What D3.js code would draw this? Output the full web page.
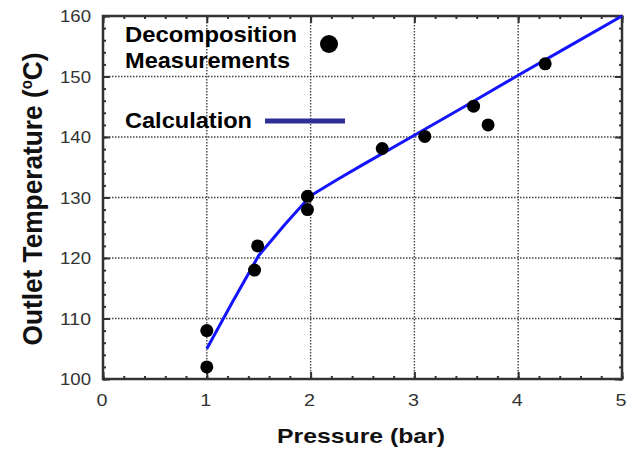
<!DOCTYPE html>
<html>
<head>
<meta charset="utf-8">
<script src="https://cdn.jsdelivr.net/npm/d3@7"></script>
<style>
  body { margin: 0; background: #fff; }
  text { font-family: Arial, "Liberation Sans", sans-serif; }
</style>
</head>
<body>
<div id="chart"></div>
<script>

////////// Data ///////////

var measured_pressure = [1.0, 1.0, 1.46, 1.49, 1.97, 1.97, 2.69, 3.10, 3.57, 3.71, 4.26];
var measured_temp     = [102, 108, 118, 122, 128, 130.2, 138.1, 140.1, 145.1, 142, 152.1];

var calc_pressure = [1.0, 1.25, 1.5, 1.75, 2.0, 2.25, 2.5, 3.0, 3.5, 4.0, 4.5, 5.0];
var calc_temp     = [105, 112.8, 120.4, 125.5, 130.3, 132.9, 135.4, 140.3, 145.2, 150.2, 155.1, 160];

var x_ticks = [0, 1, 2, 3, 4, 5];
var y_ticks = [100, 110, 120, 130, 140, 150, 160];

////////// Chart ///////////

var width = 633, height = 453;
var margin = { top: 16, right: 11, bottom: 74, left: 103 };

var svg = d3.select("div#chart")
  .append("svg")
  .attr("width", width)
  .attr("height", height);

var x = d3.scaleLinear().domain([0, 5]).range([margin.left, width - margin.right]);
var y = d3.scaleLinear().domain([100, 160]).range([height - margin.bottom, margin.top]);

var x0 = x.range()[0], x1 = x.range()[1];
var y0 = y.range()[0], y1 = y.range()[1];

// dotted grid lines at the major ticks
svg.append("g")
  .selectAll("line")
  .data(x_ticks.slice(1, -1))
  .enter().append("line")
  .attr("x1", d => x(d)).attr("x2", d => x(d))
  .attr("y1", y1).attr("y2", y0)
  .style("stroke", "#444")
  .style("stroke-width", 1.4)
  .style("stroke-dasharray", "1.5,1.5");

svg.append("g")
  .selectAll("line")
  .data(y_ticks.slice(1, -1))
  .enter().append("line")
  .attr("x1", x0).attr("x2", x1)
  .attr("y1", d => y(d)).attr("y2", d => y(d))
  .style("stroke", "#444")
  .style("stroke-width", 1.4)
  .style("stroke-dasharray", "1.5,1.5");

// axes, ticks pointing inward, on all four sides
var xMinor = d3.range(0, 5.001, 0.2);
var yMinor = d3.range(100, 160.001, 2);

function axisTicks(axis, ticks, size) {
  return axis.tickValues(ticks).tickSize(size).tickFormat("");
}

svg.append("g").attr("transform", "translate(0," + y0 + ")")
  .call(axisTicks(d3.axisTop(x), xMinor, 3));
svg.append("g").attr("transform", "translate(0," + y0 + ")")
  .call(axisTicks(d3.axisTop(x), x_ticks, 7));
svg.append("g").attr("transform", "translate(0," + y1 + ")")
  .call(axisTicks(d3.axisBottom(x), xMinor, 3));
svg.append("g").attr("transform", "translate(0," + y1 + ")")
  .call(axisTicks(d3.axisBottom(x), x_ticks, 7));
svg.append("g").attr("transform", "translate(" + x0 + ",0)")
  .call(axisTicks(d3.axisRight(y), yMinor, 3));
svg.append("g").attr("transform", "translate(" + x0 + ",0)")
  .call(axisTicks(d3.axisRight(y), y_ticks, 7));
svg.append("g").attr("transform", "translate(" + x1 + ",0)")
  .call(axisTicks(d3.axisLeft(y), yMinor, 3));
svg.append("g").attr("transform", "translate(" + x1 + ",0)")
  .call(axisTicks(d3.axisLeft(y), y_ticks, 7));

svg.selectAll(".domain").remove();
svg.selectAll(".tick line").style("stroke", "#333").style("stroke-width", 2);

// frame
svg.append("rect")
  .attr("x", x0).attr("y", y1)
  .attr("width", x1 - x0).attr("height", y0 - y1)
  .style("fill", "none")
  .style("stroke", "#333")
  .style("stroke-width", 2.5);

// tick labels
svg.append("g")
  .selectAll("text")
  .data(x_ticks)
  .enter().append("text")
  .attr("x", d => x(d) - 1)
  .attr("y", y0 + 27)
  .attr("text-anchor", "middle")
  .attr("textLength", 11)
  .attr("lengthAdjust", "spacingAndGlyphs")
  .style("font-size", "16px")
  .style("fill", "#333")
  .text(d => d);

svg.append("g")
  .selectAll("text")
  .data(y_ticks)
  .enter().append("text")
  .attr("x", x0 - 12)
  .attr("y", d => y(d) + 6)
  .attr("text-anchor", "end")
  .attr("textLength", 31)
  .attr("lengthAdjust", "spacingAndGlyphs")
  .style("font-size", "17px")
  .style("fill", "#333")
  .text(d => d);

// axis titles
svg.append("text")
  .attr("x", 361)
  .attr("y", 443)
  .attr("text-anchor", "middle")
  .attr("textLength", 168)
  .attr("lengthAdjust", "spacingAndGlyphs")
  .style("font-size", "21px")
  .style("font-weight", "bold")
  .style("fill", "#111")
  .text("Pressure (bar)");

var ytitle = svg.append("text")
  .attr("transform", "translate(42,199) scale(1.3,1) rotate(-90)")
  .attr("text-anchor", "middle")
  .attr("textLength", 293)
  .attr("lengthAdjust", "spacingAndGlyphs")
  .style("font-size", "21px")
  .style("font-weight", "bold")
  .style("fill", "#111");
ytitle.append("tspan").text("Outlet Temperature (");
ytitle.append("tspan").attr("dy", -8).style("font-size", "12px").text("o");
ytitle.append("tspan").attr("dy", 8).text("C)");

// calculation curve
var line = d3.line()
  .x((d, i) => x(calc_pressure[i]))
  .y(d => y(d));

svg.append("path")
  .datum(calc_temp)
  .attr("d", line)
  .style("fill", "none")
  .style("stroke", "#1414ff")
  .style("stroke-width", 3)
  .style("stroke-linejoin", "round");

// measurement points
svg.append("g")
  .selectAll("circle")
  .data(measured_temp)
  .enter().append("circle")
  .attr("cx", (d, i) => x(measured_pressure[i]))
  .attr("cy", d => y(d))
  .attr("r", 6.5)
  .style("fill", "#000");

// legend
var legend = svg.append("g");

legend.append("text")
  .attr("x", 125).attr("y", 42)
  .attr("textLength", 172)
  .attr("lengthAdjust", "spacingAndGlyphs")
  .style("font-size", "22px").style("font-weight", "bold")
  .text("Decomposition");
legend.append("text")
  .attr("x", 125).attr("y", 68)
  .attr("textLength", 165)
  .attr("lengthAdjust", "spacingAndGlyphs")
  .style("font-size", "22px").style("font-weight", "bold")
  .text("Measurements");
legend.append("circle")
  .attr("cx", 329).attr("cy", 44).attr("r", 9)
  .style("fill", "#000");

legend.append("text")
  .attr("x", 125).attr("y", 128)
  .attr("textLength", 127)
  .attr("lengthAdjust", "spacingAndGlyphs")
  .style("font-size", "22px").style("font-weight", "bold")
  .text("Calculation");
legend.append("line")
  .attr("x1", 265).attr("x2", 345)
  .attr("y1", 121).attr("y2", 121)
  .style("stroke", "#2e2e96")
  .style("stroke-width", 5);

</script>
</body>
</html>
